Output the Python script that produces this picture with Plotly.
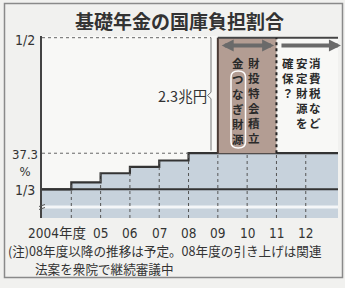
import plotly.graph_objects as go

# ---- data ----
years = [2003, 2004, 2005, 2006, 2007, 2008, 2009, 2010, 2011, 2012, 2013]
ratio = [33.33, 34.1, 35.1, 35.8, 36.5, 37.3, 37.3, 37.3, 37.3, 37.3, 37.3]
tick_years = [2004, 2005, 2006, 2007, 2008, 2009, 2010, 2011, 2012]
tick_text = ["2004年度", "05", "06", "07", "08", "09", "10", "11", "12"]
target = 50.0          # 1/2
one_third = 100 / 3    # 1/3
base_level = 37.3
bridge_start, bridge_end = 2009, 2011   # 財投特会積立金 (2009-2010)
gap_label = "2.3兆円"

title = "基礎年金の国庫負担割合"
note1 = "(注)08年度以降の推移は予定。08年度の引き上げは関連"
note2 = "法案を衆院で継続審議中"
box_col1 = "財投特会積立"
box_col2_head = "金"
box_col2_paren = "つなぎ財源"
right_cols = ["消費税など", "安定財源を", "確保？"]

# ---- layout geometry ----
W, H = 345, 288
L, R, T, B = 42, 7, 36, 70
XMIN, XMAX = 2003.0, 2013.1
k = 151.6 / (target - one_third)          # px per %
YMAX = target + (37.7 - T) / k
YMIN = one_third - ((H - B) - 189.3) / k

def px(x):  # pixel x -> paper
    return (x - L) / (W - L - R)

def py(y):  # pixel y -> paper
    return ((H - B) - y) / (H - T - B)

def dy(y):  # pixel y -> data y
    return target - (y - 37.7) / k

def dx(x):  # pixel x -> data x
    return XMIN + (x - L) / (W - L - R) * (XMAX - XMIN)

NUM = "Liberation Sans Narrow, DejaVu Sans Condensed, Noto Sans CJK JP"
JP = "Noto Sans CJK JP"
DARK = "#333333"
FILL = "#c7d2dc"
BROWN = "#b39d93"

fig = go.Figure()
fig.add_trace(go.Scatter(
    x=years + [XMAX], y=ratio + [ratio[-1]], mode="lines",
    line=dict(shape="hv", color=DARK, width=2.2),
    fill="tozeroy", fillcolor=FILL, hoverinfo="skip", showlegend=False))

shapes = []
# white break band
shapes.append(dict(type="rect", xref="x", yref="y", x0=XMIN, x1=XMAX,
                   y0=dy(208.6), y1=dy(205.6), fillcolor="#f4f6f8", line_width=0, layer="above"))
# gridlines under the steps
for yr in tick_years:
    v = ratio[years.index(yr)]
    shapes.append(dict(type="line", xref="x", yref="y", x0=yr, x1=yr, y0=YMIN, y1=v,
                       line=dict(color="#555", width=1, dash="dot"), layer="above"))
# 1/3 line
shapes.append(dict(type="line", xref="x", yref="y", x0=XMIN, x1=XMAX, y0=one_third, y1=one_third,
                   line=dict(color=DARK, width=2), layer="above"))
# dotted reference lines
bracket_x = dx(211)
shapes.append(dict(type="line", xref="x", yref="y", x0=XMIN, x1=bracket_x, y0=target, y1=target,
                   line=dict(color="#666", width=1, dash="dot")))
shapes.append(dict(type="line", xref="x", yref="y", x0=XMIN, x1=2008, y0=base_level, y1=base_level,
                   line=dict(color="#666", width=1, dash="dot")))
# brown bridge box
shapes.append(dict(type="rect", xref="x", yref="y", x0=bridge_start, x1=bridge_end,
                   y0=base_level, y1=target, fillcolor=BROWN, line_width=0))
shapes.append(dict(type="line", xref="x", yref="y", x0=bridge_start, x1=bridge_start,
                   y0=base_level, y1=target, line=dict(color="#4a3a34", width=2)))
shapes.append(dict(type="line", xref="x", yref="y", x0=bridge_start, x1=XMAX,
                   y0=target, y1=target, line=dict(color="#444", width=2)))
shapes.append(dict(type="line", xref="x", yref="y", x0=bridge_end, x1=bridge_end,
                   y0=base_level, y1=target, line=dict(color="#222", width=2, dash="dot")))
# white rounded outline around (つなぎ財源)
x0p, x1p, y0p, y1p = px(231), px(245.5), py(148), py(71)
rx = (x1p - x0p) / 2
ryp = py(71) - py(77)
shapes.append(dict(type="path", xref="paper", yref="paper",
                   path=(f"M {x0p},{y1p - ryp} Q {x0p},{y1p} {x0p + rx},{y1p} Q {x1p},{y1p} {x1p},{y1p - ryp} "
                         f"L {x1p},{y0p + ryp} Q {x1p},{y0p} {x0p + rx},{y0p} Q {x0p},{y0p} {x0p},{y0p + ryp} Z"),
                   line=dict(color="#ffffff", width=1.5)))
# bracket for 2.3兆円
mid = (target + base_level) / 2
n = 0.12
shapes.append(dict(type="path", xref="x", yref="y",
                   path=f"M {bracket_x},{target} L {bracket_x},{mid+0.35} L {bracket_x-n},{mid} "
                        f"L {bracket_x},{mid-0.35} L {bracket_x},{base_level+0.3}",
                   line=dict(color="#777", width=1)))
# axis break mark
shapes.append(dict(type="path", xref="paper", yref="paper",
                   path=f"M {px(39)},{py(206.5)} L {px(45)},{py(204.5)} M {px(39)},{py(209.5)} L {px(45)},{py(207.5)}",
                   line=dict(color="#555", width=1)))
# outer frame
shapes.append(dict(type="rect", xref="paper", yref="paper", x0=px(4.5), x1=px(342.5),
                   y0=py(277.5), y1=py(3.5), line=dict(color="#8a8a8a", width=1.5)))

ann = []

def label(text, xpix, ypix, size, family=JP, xanchor="center", color=DARK):
    ann.append(dict(text=text, x=px(xpix), y=py(ypix), xref="paper", yref="paper",
                    xanchor=xanchor, yanchor="middle", showarrow=False, borderpad=0,
                    align="center", font=dict(family=family, size=size, color=color)))

# title
label(f"<b>{title}</b>", 179, 20, 19)
# y labels
label("1/2", 25, 40, 14, family=NUM)
label("37.3<br>%", 25, 162.5, 13, family=NUM)
label("1/3", 25, 190, 14, family=NUM)
# x labels
for yr, txt in zip(tick_years, tick_text):
    if yr == tick_years[0]:
        label(txt, 87, 233.5, 13.5, family=NUM, xanchor="right")
    else:
        ann.append(dict(text=txt, x=yr, y=py(233.5), xref="x", yref="paper", xanchor="center",
                        yanchor="middle", showarrow=False, borderpad=0,
                        font=dict(family=NUM, size=13.5, color=DARK)))
# notes
label(note1, 7, 250, 12.6, xanchor="left")
label(note2, 34, 268, 12.6, xanchor="left")
# gap label
ann.append(dict(text=gap_label, x=px(208), y=mid, xref="paper", yref="y", xanchor="right",
                yanchor="middle", showarrow=False, borderpad=0,
                font=dict(family=JP, size=14.5, color=DARK)))

# vertical text: one annotation per column
def vcol(s, xpix, ycenter, size=11.5, color="#2a2a2a"):
    label("<br>".join(f"<b>{c}</b>" for c in s), xpix, ycenter, size, color=color)

vcol(box_col1, 254, 100)
vcol(box_col2_head, 238, 63)
vcol(box_col2_paren, 238, 109)
vcol(right_cols[0], 315, 93)
vcol(right_cols[1], 302, 93)
vcol(right_cols[2], 288, 78)

# arrows
ay = dy(45.5)
ann.append(dict(x=bridge_end - 0.08, y=ay, ax=bridge_start + 0.08, ay=ay, xref="x", yref="y",
                axref="x", ayref="y", text="", showarrow=True, arrowside="end+start",
                arrowhead=2, startarrowhead=2, arrowsize=0.6, startarrowsize=0.6,
                arrowwidth=4, arrowcolor="#6a6a6a"))
ann.append(dict(x=2013.2, y=ay, ax=bridge_end + 0.12, ay=ay, xref="x", yref="y",
                axref="x", ayref="y", text="", showarrow=True, arrowhead=2, arrowsize=0.6,
                arrowwidth=4, arrowcolor="#6a6a6a"))

fig.update_layout(
    width=W, height=H, margin=dict(l=L, r=R, t=T, b=B),
    paper_bgcolor="#f1f1ef", plot_bgcolor="#f8f8f6",
    xaxis=dict(range=[XMIN, XMAX], showgrid=False, zeroline=False, showticklabels=False,
               ticks="", fixedrange=True),
    yaxis=dict(range=[YMIN, YMAX], showgrid=False, zeroline=False, showticklabels=False,
               ticks="", showline=True, linecolor="#444", linewidth=1.5, fixedrange=True),
    shapes=shapes, annotations=ann, showlegend=False)

fig.write_html("out.html", config={"displayModeBar": False},
               post_script="document.body.style.margin='0';")
